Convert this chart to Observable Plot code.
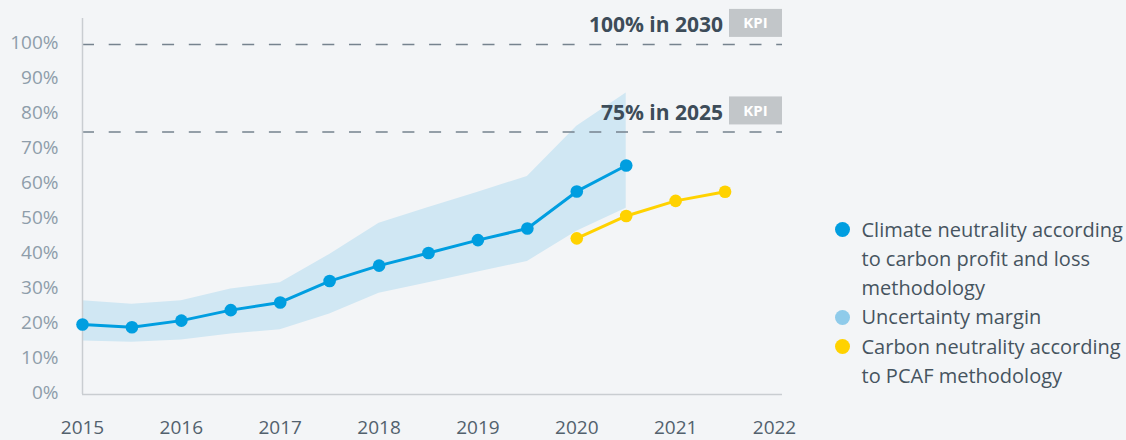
<!DOCTYPE html>
<html><head><meta charset="utf-8">
<script src="https://cdn.jsdelivr.net/npm/d3@7"></script>
<script src="https://cdn.jsdelivr.net/npm/@observablehq/plot@0.6"></script>
<style>
html,body{margin:0;padding:0;background:#f3f5f7;}
#wrap{position:relative;width:1126px;height:440px;overflow:hidden;font-family:"Open Sans",sans-serif;background:#f3f5f7;}
#chart{position:absolute;left:0;top:0;}
#legend{position:absolute;left:834.5px;top:214.5px;font-size:20px;line-height:29.3px;color:#46545f;white-space:nowrap;}
.item{display:flex;align-items:flex-start;}
.dot{width:15px;height:15px;border-radius:50%;margin-top:7.2px;margin-right:12px;flex:none;}
</style></head><body><div id="wrap"><div id="chart"></div><div id="legend"></div></div>
<script>
// ---- data ----
const climateYears = [2015, 2015.5, 2016, 2016.5, 2017, 2017.5, 2018, 2018.5, 2019, 2019.5, 2020, 2020.5];
const climateValues = [20.0, 19.2, 21.1, 24.1, 26.3, 32.4, 36.8, 40.4, 44.1, 47.4, 58.0, 65.4];
const marginUpper = [26.8, 25.8, 26.8, 30.1, 31.9, 40.0, 48.9, 53.4, 57.8, 62.3, 76.6, 86.1];
const marginLower = [15.3, 14.9, 15.6, 17.3, 18.5, 23.0, 28.9, 31.9, 35.0, 38.0, 46.6, 53.2];
const pcafYears = [2020, 2020.5, 2021, 2021.5];
const pcafValues = [44.6, 51.0, 55.3, 57.9];
const kpiTargets = [100, 75];
const kpiLabels = ["100% in 2030", "75% in 2025"];
const kpiBadge = "KPI";
const xTicks = [2015, 2016, 2017, 2018, 2019, 2020, 2021, 2022];
const yTicks = [0, 10, 20, 30, 40, 50, 60, 70, 80, 90, 100];
const legendLabels = [
  "Climate neutrality according<br>to carbon profit and loss<br>methodology",
  "Uncertainty margin",
  "Carbon neutrality according<br>to PCAF methodology"
];

// ---- colours ----
const BLUE = "#009ee0", BAND = "#d0e7f3", YELLOW = "#ffd200", LEGBAND = "#8fcbea";

const climate = climateYears.map((year, i) => ({year, value: climateValues[i], upper: marginUpper[i], lower: marginLower[i]}));
const pcaf = pcafYears.map((year, i) => ({year, value: pcafValues[i]}));

const kpiMark = (index, scales, values, dims) => {
  const g = d3.create("svg:g");
  const right = dims.width - dims.marginRight;
  kpiTargets.forEach((t, i) => {
    const y = scales.y(t);
    g.append("rect").attr("x", right - 53).attr("y", y - 35).attr("width", 53).attr("height", 28).attr("fill", "#c2c6c9");
    g.append("text").attr("x", right - 26.5).attr("y", y - 15.5).attr("text-anchor", "middle")
      .attr("fill", "#ffffff").attr("font-weight", 700).attr("font-size", 15).text(kpiBadge);
    g.append("text").attr("x", right - 59).attr("y", y - 11.5).attr("text-anchor", "end")
      .attr("fill", "#3d4c59").attr("font-weight", 700).attr("font-size", 21).text(kpiLabels[i]);
  });
  return g.node();
};

const chart = Plot.plot({
  width: 800, height: 440,
  marginLeft: 82, marginRight: 18, marginTop: 18, marginBottom: 46,
  style: {background: "transparent", fontFamily: "'Open Sans', sans-serif", fontSize: "19px", overflow: "visible"},
  x: {domain: [2015, 2022], range: [82, 774]},
  y: {domain: [0, 107.4]},
  marks: [
    Plot.areaY(climate, {x: "year", y1: "lower", y2: "upper", fill: BAND}),
    Plot.ruleY(kpiTargets, {stroke: "#76838e", strokeWidth: 1.5, strokeDasharray: "12,14.7"}),
    Plot.ruleX([2015], {stroke: "#c9cdd1", strokeWidth: 1.5}),
    Plot.ruleY([0], {stroke: "#c9cdd1", strokeWidth: 1.5}),
    Plot.axisX({ticks: xTicks, tickSize: 0, tickPadding: 26, color: "#52616d", tickFormat: d => String(d), label: null}),
    Plot.axisY({ticks: yTicks, tickSize: 0, tickPadding: 24, color: "#8e9daa", tickFormat: d => d + "%", label: null, dy: -1.5}),
    Plot.lineY(climate, {x: "year", y: "value", stroke: BLUE, strokeWidth: 3}),
    Plot.dot(climate, {x: "year", y: "value", r: 6.3, fill: BLUE}),
    Plot.lineY(pcaf, {x: "year", y: "value", stroke: YELLOW, strokeWidth: 3}),
    Plot.dot(pcaf, {x: "year", y: "value", r: 6.3, fill: YELLOW}),
    kpiMark
  ]
});
document.getElementById("chart").appendChild(chart);

const legendColors = [BLUE, LEGBAND, YELLOW];
const legend = d3.select("#legend");
legendLabels.forEach((lab, i) => {
  const it = legend.append("div").attr("class", "item");
  it.append("span").attr("class", "dot").style("background", legendColors[i]);
  it.append("span").html(lab);
});
</script>
</body></html>
